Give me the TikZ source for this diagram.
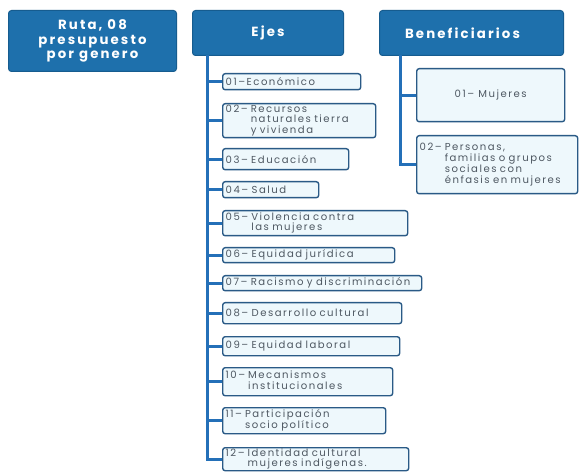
\documentclass[tikz,border=0pt]{standalone}
\usepackage{fontspec}
\newfontfamily\headfont[LetterSpace=16]{Poppins}
\newfontfamily\boxfont[LetterSpace=15]{Poppins}
\definecolor{headblue}{HTML}{1E70AC}
\definecolor{headedge}{HTML}{165C8F}
\definecolor{linkblue}{HTML}{2470B8}
\definecolor{boxedge}{HTML}{2A5A86}
\definecolor{boxfill}{HTML}{EEF8FC}
\definecolor{boxtext}{HTML}{4E5862}
\begin{document}
\begin{tikzpicture}[x=1pt,y=-1pt,
  head/.style={draw=headedge,fill=headblue,rounded corners=3pt,line width=1pt,
    anchor=north west,inner sep=0pt,text=white,align=center,
    font=\headfont\fontsize{13.3}{14.5}\selectfont\bfseries},
  item/.style={draw=boxedge,fill=boxfill,rounded corners=2.5pt,line width=1.4pt,
    anchor=north west,inner xsep=3pt,inner ysep=0pt,text=boxtext,align=left,
    font=\boxfont\fontsize{10.1}{9.8}\selectfont},
  link/.style={draw=linkblue,line width=3pt}]
\useasboundingbox (0,0) rectangle (584,473);
\fill[white] (0,0) rectangle (584,473);
\coordinate (et) at (207,55);
\coordinate (bt) at (400,55);
% head boxes
\node[head,minimum width=168pt,minimum height=61pt] (ruta) at (8,10) {Ruta, 08\\presupuesto\\por genero};
\node[head,minimum width=151pt,minimum height=45pt] (ejes) at (192,10) {Ejes};
\node[head,minimum width=184pt,minimum height=45pt] (benef) at (379,10) {Beneficiarios\hspace*{18pt}};
% items
\newcommand{\itm}[6]{% name, x1, y1, x2, y2, text
  \node[item,text width={#4-#2-6pt},minimum height={#5-#3}] (#1) at (#2,#3) {#6};}
\newcommand{\hang}[2]{\begin{tabular}{@{}l@{\hspace{0.3em}}l@{}}#1&#2\end{tabular}}
\itm{e1}{222}{73}{360}{89}{01–Económico}
\itm{e2}{222}{103}{375}{137}{\hang{02–}{Recursos\\&naturales tierra\\&y vivienda}}
\itm{e3}{222}{148}{348}{169}{03– Educación}
\itm{e4}{222}{181}{318}{197}{04– Salud}
\itm{e5}{222}{210}{407}{235}{\hang{05–}{Violencia contra\\&las mujeres}}
\itm{e6}{222}{247}{394}{262}{06– Equidad jurídica}
\itm{e7}{222}{275}{421}{290}{07– Racismo y discriminación}
\itm{e8}{222}{302}{401}{323}{08– Desarrollo cultural}
\itm{e9}{222}{336}{399}{355}{09– Equidad laboral}
\itm{e10}{222}{367}{392}{395}{\hang{10–}{Mecanismos\\&institucionales}}
\itm{e11}{222}{407}{385}{433}{\hang{11–}{Participación\\&socio político}}
\itm{e12}{222}{447}{408}{470}{\hang{12–}{Identidad cultural\\&mujeres indígenas.}}
\node[item,align=center,minimum width=148pt,minimum height=53pt] (b1) at (416,68) {01– Mujeres};
\itm{b2}{416}{135}{577}{193}{\hang{02–}{Personas,\\&familias o grupos\\&sociales con\\&énfasis en mujeres}}
% connectors
\foreach \n in {e1,e2,e3,e4,e5,e6,e7,e8,e9,e10,e11,e12}
  \draw[link] (et) |- (\n.west);
\foreach \n in {b1,b2}
  \draw[link] (bt) |- (\n.west);
\end{tikzpicture}
\end{document}
